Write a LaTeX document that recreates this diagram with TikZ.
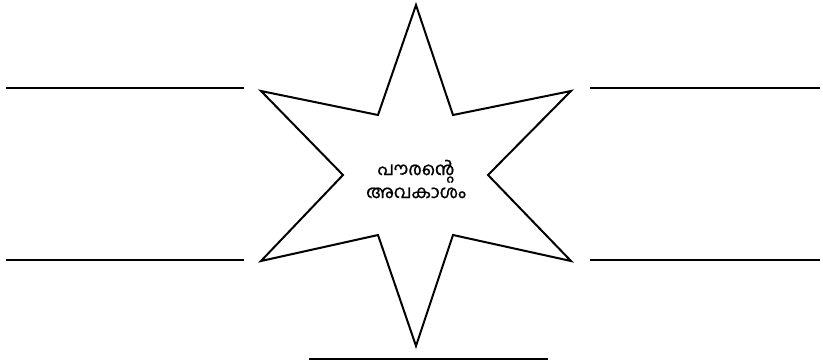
\documentclass[tikz,border=0pt]{standalone}
\usepackage{fontspec}
\newfontfamily\malfont[Script=Malayalam,FakeBold=0.9]{Hind Kochi}
\usetikzlibrary{positioning}
\tikzset{
	x=1pt, y=-1pt,
	staredge/.style={line width=2pt, line join=miter, draw=black},
	blankline/.style={line width=2.2pt, draw=black},
	startext/.style={font=\malfont\fontsize{18}{23}\selectfont, align=center, text=black, inner sep=0pt}
}
\begin{document}
\begin{tikzpicture}
	\useasboundingbox (0,0) rectangle (823,362);
	% star
	\draw[staredge] (416,5) -- (453,115) -- (571,91) -- (488,175) -- (571,261)
		-- (453,235) -- (416,346) -- (378,235) -- (261,261) -- (343,175)
		-- (261,91) -- (378,115) -- cycle;
	\node[startext] (title) at (416,179) {പൗരന്റെ\\അവകാശം};
	% blank lines
	\coordinate (la) at (6,88);   \coordinate (lb) at (244,88);
	\coordinate (ra) at (590,88); \coordinate (rb) at (820,88);
	\coordinate (lc) at (6,260);  \coordinate (ld) at (244,260);
	\coordinate (rc) at (590,260);\coordinate (rd) at (820,260);
	\coordinate (ba) at (309,359);\coordinate (bb) at (548,359);
	\draw[blankline] (la) -- (lb);
	\draw[blankline] (ra) -- (rb);
	\draw[blankline] (lc) -- (ld);
	\draw[blankline] (rc) -- (rd);
	\draw[blankline] (ba) -- (bb);
\end{tikzpicture}
\end{document}
